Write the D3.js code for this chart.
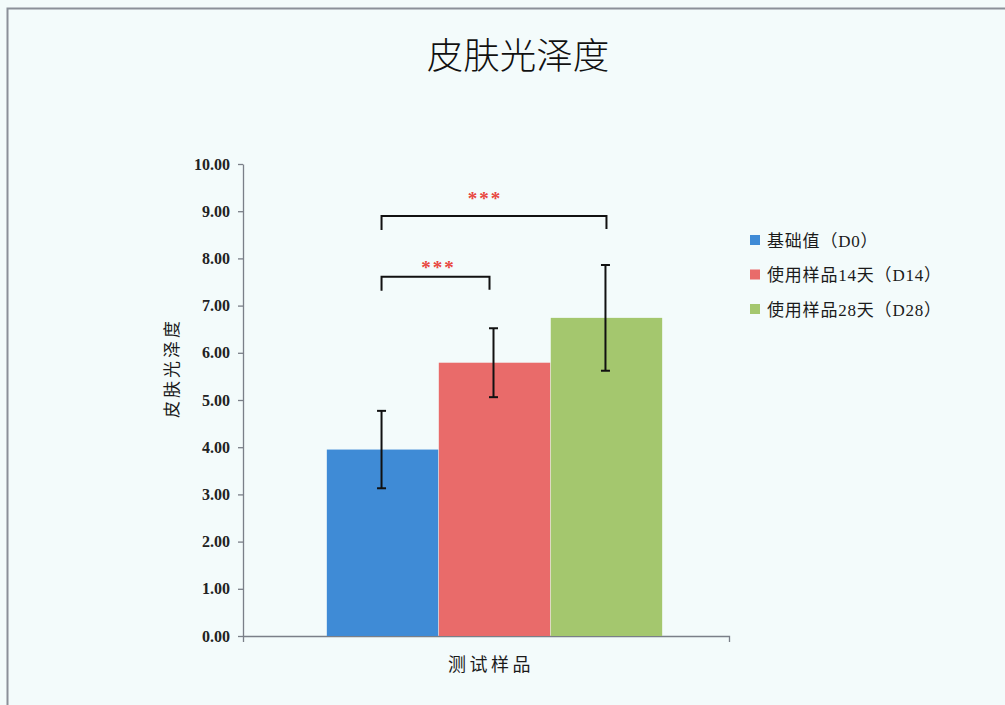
<!DOCTYPE html>
<html>
<head>
<meta charset="utf-8">
<script src="https://cdn.jsdelivr.net/npm/d3@7"></script>
<style>
  html, body { margin: 0; padding: 0; background: #f3fbfb; }
  svg { display: block; }
</style>
</head>
<body>
<svg id="chart" width="1005" height="705"></svg>
<script>
// ---- data ----
const categories = ["测试样品"];
const seriesNames = ["基础值（D0）", "使用样品14天（D14）", "使用样品28天（D28）"];
const seriesValues = [3.95, 5.79, 6.74];
const seriesErrors = [0.82, 0.73, 1.12];
const seriesColors = ["#3f8bd6", "#e96b6a", "#a4c76e"];
const yTickValues = [0, 1, 2, 3, 4, 5, 6, 7, 8, 9, 10];
const sigPairs = [[0, 1], [0, 2]];
const sigLevels = [7.61, 8.90];
const sigLabels = ["***", "***"];
const titleText = "皮肤光泽度";
const yAxisTitle = "皮肤光泽度";
const xAxisTitle = "测试样品";

// ---- layout ----
const W = 1005, H = 705;
const plotLeft = 243, plotTop = 164, plotBottom = 636;
const svg = d3.select("#chart");

svg.append("rect").attr("x", 0).attr("y", 0).attr("width", W).attr("height", H).attr("fill", "#f3fbfb");
// frame
svg.append("path").attr("d", `M7.5,${H} L7.5,8.5 L${W},8.5`)
  .attr("fill", "none").attr("stroke", "#8b9099").attr("stroke-width", 2);

// title
svg.append("text").attr("x", 518).attr("y", 69).attr("text-anchor", "middle")
  .attr("font-family", "'Noto Sans CJK SC', sans-serif").attr("font-size", 36.5)
  .attr("font-weight", 300).attr("fill", "#111").text(titleText);

const y = d3.scaleLinear().domain([0, 10]).range([plotBottom, plotTop]);
const x0 = d3.scaleBand().domain(categories).range([plotLeft, 746]).padding(0.2);
const x1 = d3.scaleBand().domain(d3.range(seriesNames.length)).range([0, x0.bandwidth()]).paddingInner(0.005);

// y axis
const yAxis = svg.append("g").attr("transform", `translate(${plotLeft},0)`)
  .call(d3.axisLeft(y).tickValues(yTickValues).tickFormat(d3.format(".2f")).tickSize(5).tickSizeOuter(0));
yAxis.select(".domain").attr("stroke", "#7a7f88").attr("stroke-width", 1.3);
yAxis.selectAll(".tick line").attr("stroke", "#7a7f88").attr("stroke-width", 1.3);
yAxis.selectAll(".tick text").attr("font-family", "'Liberation Serif', serif")
  .attr("font-size", 16).attr("font-weight", "bold").attr("fill", "#222").attr("x", -13);

// x axis (line with end ticks)
const xLine = d3.scaleLinear().domain([0, 1]).range([plotLeft, 729]);
const xAxis = svg.append("g").attr("transform", `translate(0,${plotBottom})`)
  .call(d3.axisBottom(xLine).tickValues([]).tickSizeOuter(6));
xAxis.select(".domain").attr("stroke", "#7a7f88").attr("stroke-width", 1.3);

// bars
const g = svg.append("g").attr("transform", `translate(${x0(categories[0])},0)`);
g.selectAll("rect.bar").data(seriesValues).join("rect")
  .attr("class", "bar")
  .attr("x", (d, i) => x1(i)).attr("width", x1.bandwidth())
  .attr("y", d => y(d)).attr("height", d => y(0) - y(d))
  .attr("fill", (d, i) => seriesColors[i]);

// error bars
const cx = i => x0(categories[0]) + x1(i) + x1.bandwidth() / 2;
const errG = svg.append("g").attr("stroke", "#111").attr("stroke-width", 2).attr("fill", "none");
seriesValues.forEach((v, i) => {
  const e = seriesErrors[i];
  const xc = cx(i) - 1;
  errG.append("line").attr("x1", xc).attr("x2", xc).attr("y1", y(v + e)).attr("y2", y(v - e));
  errG.append("line").attr("x1", xc - 4.5).attr("x2", xc + 4.5).attr("y1", y(v + e)).attr("y2", y(v + e));
  errG.append("line").attr("x1", xc - 4.5).attr("x2", xc + 4.5).attr("y1", y(v - e)).attr("y2", y(v - e));
});

// significance brackets
const starDy = [-3, -11];
const starDx = [3, -9];
sigPairs.forEach((p, k) => {
  const xa = cx(p[0]) - 1, xb = cx(p[1]) - (k === 0 ? 5 : 0);
  const yl = y(sigLevels[k]);
  svg.append("path").attr("d", `M${xa},${yl + 14} L${xa},${yl} L${xb},${yl} L${xb},${yl + 13}`)
    .attr("fill", "none").attr("stroke", "#111").attr("stroke-width", 2);
  svg.append("text").attr("x", (xa + xb) / 2 + starDx[k]).attr("y", yl + starDy[k]).attr("text-anchor", "middle")
    .attr("font-family", "'Liberation Serif', serif").attr("font-size", 19).attr("font-weight", "bold")
    .attr("letter-spacing", 2).attr("fill", "#e8473f").text(sigLabels[k]);
});

// axis titles
svg.append("text").attr("transform", `translate(178,368) rotate(-90)`).attr("text-anchor", "middle")
  .attr("font-family", "'Noto Sans CJK SC', sans-serif").attr("font-size", 17).attr("letter-spacing", 3)
  .attr("fill", "#1a1a1a").text(yAxisTitle);
svg.append("text").attr("x", 491).attr("y", 671).attr("text-anchor", "middle")
  .attr("font-family", "'Noto Sans CJK SC', sans-serif").attr("font-size", 18).attr("letter-spacing", 3.5)
  .attr("fill", "#1a1a1a").text(xAxisTitle);

// legend
const lg = svg.append("g").attr("transform", "translate(750,240)");
seriesNames.forEach((name, i) => {
  const row = lg.append("g").attr("transform", `translate(0,${i * 34.5})`);
  row.append("rect").attr("x", 0).attr("y", -5).attr("width", 10).attr("height", 10).attr("fill", seriesColors[i]);
  row.append("text").attr("x", 17).attr("y", 6.5)
    .attr("font-family", "'Liberation Serif', 'Noto Sans CJK SC', serif").attr("font-size", 17)
    .attr("letter-spacing", 0.8).attr("fill", "#1a1a1a").text(name);
});
</script>
</body>
</html>
